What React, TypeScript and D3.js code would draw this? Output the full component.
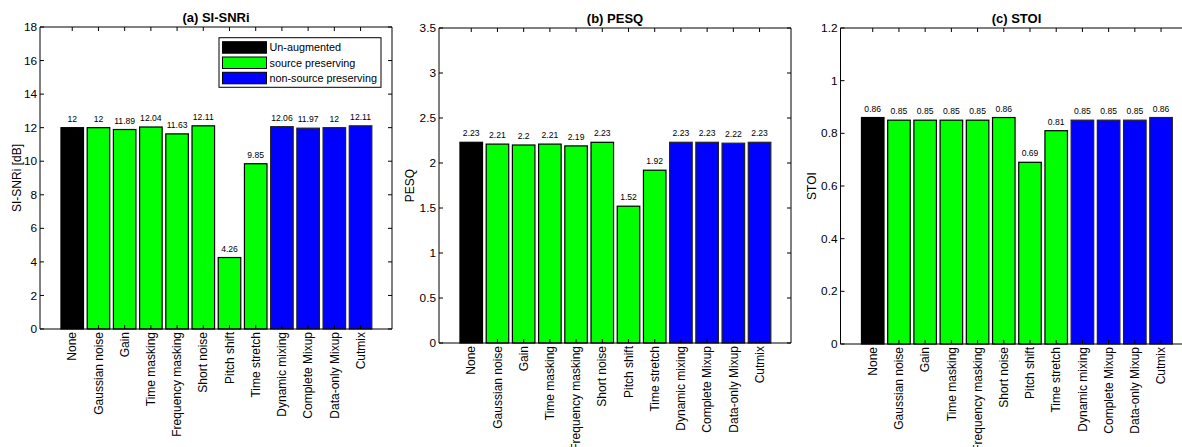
import React from "react";
import * as d3 from "d3";

const categories = [
  "None", "Gaussian noise", "Gain", "Time masking", "Frequency masking", "Short noise",
  "Pitch shift", "Time stretch", "Dynamic mixing", "Complete Mixup", "Data-only Mixup", "Cutmix",
];
const groupOf = [0, 1, 1, 1, 1, 1, 1, 1, 2, 2, 2, 2];
const groupNames = ["Un-augmented", "source preserving", "non-source preserving"];
const groupColors = ["#000000", "#00ff00", "#0000ff"];

const siSnri = [12, 12, 11.89, 12.04, 11.63, 12.11, 4.26, 9.85, 12.06, 11.97, 12, 12.11];
const pesq = [2.23, 2.21, 2.2, 2.21, 2.19, 2.23, 1.52, 1.92, 2.23, 2.23, 2.22, 2.23];
const stoi = [0.86, 0.85, 0.85, 0.85, 0.85, 0.86, 0.69, 0.81, 0.85, 0.85, 0.85, 0.86];

const ticksA = [0, 2, 4, 6, 8, 10, 12, 14, 16, 18];
const ticksB = [0, 0.5, 1, 1.5, 2, 2.5, 3, 3.5];
const ticksC = [0, 0.2, 0.4, 0.6, 0.8, 1, 1.2];

const FONT = "'Liberation Sans', Arial, Helvetica, sans-serif";

type PanelProps = {
  title: string;
  ylabel: string;
  values: number[];
  yTicks: number[];
  yMax: number;
  left: number;
  top: number;
  bottom: number;
  ylabelX: number;
  legend?: boolean;
};

function Panel({ title, ylabel, values, yTicks, yMax, left, top, bottom, ylabelX, legend }: PanelProps) {
  const width = 352;
  const right = left + width;
  const x = d3.scaleLinear().domain([-0.23, 13.2]).range([left, right]);
  const y = d3.scaleLinear().domain([0, yMax]).range([bottom, top]);
  const step = x(2) - x(1);
  const bw = step * 0.86;
  const tl = 4;
  return (
    <g fontFamily={FONT}>
      {values.map((v, i) => (
        <rect
          key={"b" + i}
          x={x(i + 1) - bw / 2}
          y={y(v)}
          width={bw}
          height={y(0) - y(v)}
          fill={groupColors[groupOf[i]]}
          stroke={groupOf[i] === 2 ? "#222" : "#000"}
          strokeWidth={1.2}
        />
      ))}
      {values.map((v, i) => (
        <text key={"v" + i} x={x(i + 1)} y={y(v) - 6} fontSize={8.6} textAnchor="middle" fill="#000">
          {String(v)}
        </text>
      ))}
      <line x1={left} x2={left} y1={top} y2={bottom} stroke="#000" strokeWidth={1} />
      <line x1={right} x2={right} y1={top} y2={bottom} stroke="#000" strokeWidth={1} />
      <line x1={left} x2={right} y1={top} y2={top} stroke="#000" strokeWidth={1} />
      <line x1={left} x2={right} y1={bottom} y2={bottom} stroke="#000" strokeWidth={1} />
      {yTicks.map((t) => (
        <g key={"yt" + t}>
          <line x1={left} x2={left + tl} y1={y(t)} y2={y(t)} stroke="#000" />
          <line x1={right} x2={right - tl} y1={y(t)} y2={y(t)} stroke="#000" />
          <text x={left - 3} y={y(t)} dy="0.35em" fontSize={11.8} textAnchor="end" fill="#000">
            {String(t)}
          </text>
        </g>
      ))}
      {categories.map((c, i) => (
        <g key={"xt" + i}>
          <line x1={x(i + 1)} x2={x(i + 1)} y1={top} y2={top + tl} stroke="#000" />
          <line x1={x(i + 1)} x2={x(i + 1)} y1={bottom} y2={bottom - tl} stroke="#000" />
          <text
            transform={`translate(${x(i + 1)},${bottom + 3}) rotate(-90)`}
            dy="0.35em"
            fontSize={12}
            textAnchor="end"
            fill="#000"
          >
            {c}
          </text>
        </g>
      ))}
      <text x={(left + right) / 2} y={top - 5} fontSize={13} fontWeight="bold" textAnchor="middle" fill="#000">
        {title}
      </text>
      <text
        transform={`translate(${ylabelX},${(top + bottom) / 2}) rotate(-90)`}
        dy="0.35em"
        fontSize={12}
        textAnchor="middle"
        fill="#000"
      >
        {ylabel}
      </text>
      {legend && (
        <g>
          <rect x={219} y={37.7} width={162} height={49.6} fill="#fff" stroke="#000" strokeWidth={1} />
          {groupNames.map((g, k) => (
            <g key={"lg" + k}>
              <rect x={222.5} y={41.7 + k * 15.3} width={44} height={11.5} fill={groupColors[k]} stroke="#000" strokeWidth={1} />
              <text x={269.5} y={41.7 + k * 15.3 + 5.75} dy="0.35em" fontSize={10.8} fill="#000">
                {g}
              </text>
            </g>
          ))}
        </g>
      )}
    </g>
  );
}

export default function App() {
  return (
    <svg
      width={1182}
      height={447}
      style={{ position: "absolute", left: 0, top: 0, background: "#fff" }}
    >
      <rect x={0} y={0} width={1182} height={447} fill="#fff" />
      <Panel title="(a) SI-SNRi" ylabel="SI-SNRi [dB]" values={siSnri} yTicks={ticksA} yMax={18}
        left={40} top={27} bottom={329} ylabelX={17} legend />
      <Panel title="(b) PESQ" ylabel="PESQ" values={pesq} yTicks={ticksB} yMax={3.5}
        left={439} top={28} bottom={343} ylabelX={410} />
      <Panel title="(c) STOI" ylabel="STOI" values={stoi} yTicks={ticksC} yMax={1.2}
        left={840.5} top={28} bottom={344} ylabelX={812} />
    </svg>
  );
}
